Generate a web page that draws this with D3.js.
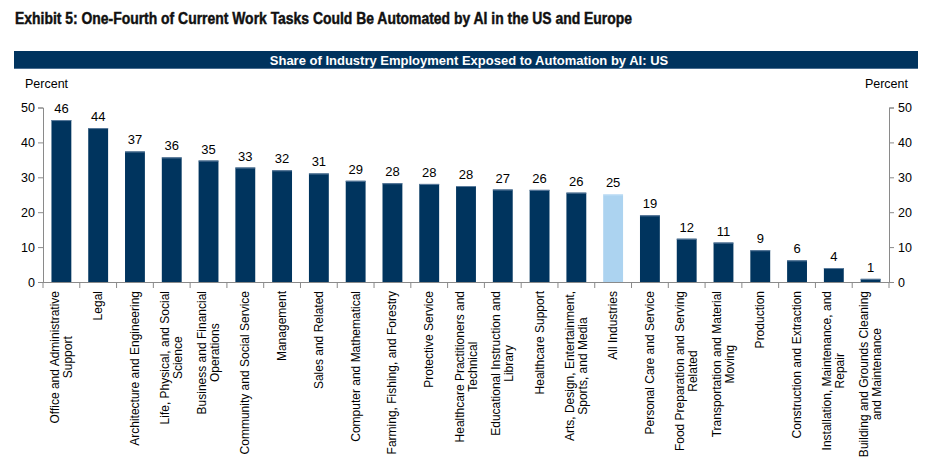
<!DOCTYPE html>
<html><head><meta charset="utf-8">
<script src="https://cdn.jsdelivr.net/npm/d3@7"></script>
<style>
html,body{margin:0;padding:0;background:#fff;}
svg{display:block;}
text{font-family:"Liberation Sans",Arial,sans-serif;}
</style></head>
<body>
<svg id="chart" width="929" height="459"></svg>
<script>
const titleText = "Exhibit 5: One-Fourth of Current Work Tasks Could Be Automated by AI in the US and Europe";
const panelTitle = "Share of Industry Employment Exposed to Automation by AI: US";
const axisTitle = "Percent";
const categories = [
  "Office and Administrative\nSupport",
  "Legal",
  "Architecture and Engineering",
  "Life, Physical, and Social\nScience",
  "Business and Financial\nOperations",
  "Community and Social Service",
  "Management",
  "Sales and Related",
  "Computer and Mathematical",
  "Farming, Fishing, and Forestry",
  "Protective Service",
  "Healthcare Practitioners and\nTechnical",
  "Educational Instruction and\nLibrary",
  "Healthcare Support",
  "Arts, Design, Entertainment,\nSports, and Media",
  "All Industries",
  "Personal Care and Service",
  "Food Preparation and Serving\nRelated",
  "Transportation and Material\nMoving",
  "Production",
  "Construction and Extraction",
  "Installation, Maintenance, and\nRepair",
  "Building and Grounds Cleaning\nand Maintenance"
];
const values = [46.4, 44.1, 37.4, 35.7, 34.8, 32.8, 32.0, 31.1, 29.0, 28.3, 28.1, 27.5, 26.5, 26.4, 25.6, 25.1, 19.1, 12.4, 11.3, 9.1, 6.2, 4.0, 0.9];
const highlight = "All Industries";
const yTicks = [0, 10, 20, 30, 40, 50];

const svg = d3.select("#chart");
const pLeft = 43, pRight = 889, pTop = 107.5, pBottom = 282;

// title
svg.append("text").attr("x", 15).attr("y", 24)
  .attr("textLength", 617).attr("lengthAdjust", "spacingAndGlyphs")
  .style("font-weight", "bold").style("font-size", "16px").attr("fill", "#111")
  .attr("stroke", "#111").attr("stroke-width", 0.45)
  .text(titleText);

// header bar
svg.append("rect").attr("x", 14).attr("y", 51).attr("width", 904).attr("height", 18).attr("fill", "#00335e");
svg.append("line").attr("x1", 14).attr("x2", 918).attr("y1", 68.5).attr("y2", 68.5).attr("stroke", "#4a6d90").attr("stroke-width", 1);
svg.append("text").attr("x", 469).attr("y", 65).attr("text-anchor", "middle")
  .attr("fill", "#fff").style("font-weight", "bold").style("font-size", "13px").text(panelTitle);

// axis titles
svg.append("text").attr("x", 25).attr("y", 88).style("font-size", "12.5px").attr("fill", "#000").text(axisTitle);
svg.append("text").attr("x", 908).attr("y", 88).attr("text-anchor", "end").style("font-size", "12.5px").attr("fill", "#000").text(axisTitle);

const x = d3.scaleBand().domain(categories).range([pLeft, pRight]).paddingInner(0.46).paddingOuter(0.23);
const y = d3.scaleLinear().domain([0, 50]).range([pBottom, pTop]);

// y axes
const axL = svg.append("g").attr("transform", `translate(${pLeft},0)`)
  .call(d3.axisLeft(y).tickValues(yTicks).tickSize(5).tickPadding(3));
const axR = svg.append("g").attr("transform", `translate(${pRight},0)`)
  .call(d3.axisRight(y).tickValues(yTicks).tickSize(5).tickPadding(4));
[axL, axR].forEach(a => {
  a.select(".domain").attr("stroke", "#8a8a8a");
  a.selectAll(".tick line").attr("stroke", "#8a8a8a");
  a.selectAll(".tick text").style("font-size", "12.5px").attr("fill", "#000")
    .style("font-family", "'Liberation Sans',Arial,sans-serif");
});

// bars
svg.append("g").selectAll("rect").data(categories).join("rect")
  .attr("x", d => x(d)).attr("width", x.bandwidth())
  .attr("y", (d, i) => y(values[i])).attr("height", (d, i) => y(0) - y(values[i]))
  .attr("fill", d => d === highlight ? "#acd3f0" : "#00345e");
// top highlight edge
svg.append("g").selectAll("line").data(categories).join("line")
  .attr("x1", d => x(d)).attr("x2", d => x(d) + x.bandwidth())
  .attr("y1", (d, i) => y(values[i]) + 0.5).attr("y2", (d, i) => y(values[i]) + 0.5)
  .attr("stroke", d => d === highlight ? "#c8e2f6" : "#5d7d9e").attr("stroke-width", 1);

// value labels
svg.append("g").selectAll("text").data(categories).join("text")
  .attr("x", d => x(d) + x.bandwidth() / 2).attr("y", (d, i) => y(values[i]) - 7)
  .attr("text-anchor", "middle").style("font-size", "13px").attr("fill", "#000")
  .text((d, i) => Math.round(values[i]));

// x axis
svg.append("line").attr("x1", pLeft).attr("x2", pRight).attr("y1", pBottom + 0.5).attr("y2", pBottom + 0.5).attr("stroke", "#8a8a8a");
const bounds = d3.range(categories.length + 1).map(i => pLeft + i * (pRight - pLeft) / categories.length);
svg.append("g").selectAll("line").data(bounds).join("line")
  .attr("x1", d => d).attr("x2", d => d).attr("y1", pBottom).attr("y2", pBottom + 6).attr("stroke", "#8a8a8a");

// x labels
const lh = 13;
const lg = svg.append("g");
categories.forEach(c => {
  const lines = c.split("\n");
  const cx = x(c) + x.bandwidth() / 2;
  const g = lg.append("g").attr("transform", `translate(${cx},291) rotate(-90)`);
  const ts = lines.map((ln, i) => g.append("text")
    .attr("y", (i - (lines.length - 1) / 2) * lh + 4)
    .attr("text-anchor", "middle").style("font-size", "12px").attr("fill", "#000").text(ln));
  const w = d3.max(ts, t => t.node().getComputedTextLength());
  ts.forEach(t => t.attr("x", -w / 2));
});
</script>
</body></html>
